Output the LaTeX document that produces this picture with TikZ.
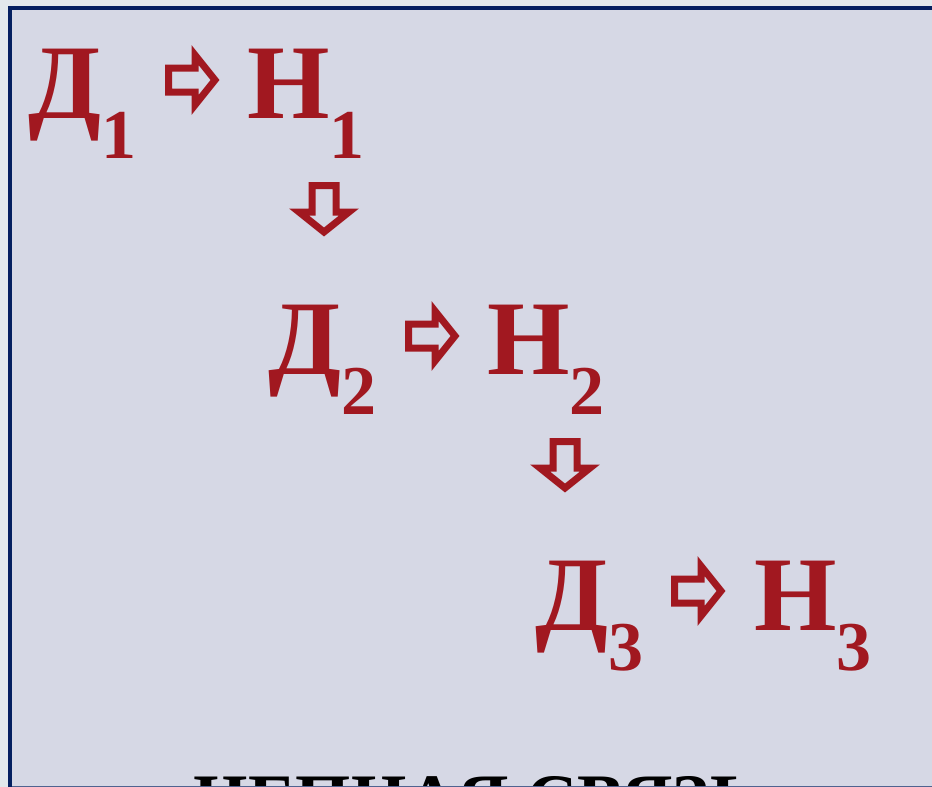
\documentclass[tikz,border=0pt]{standalone}
\usepackage{fontspec}
\setmainfont{Liberation Serif}
\usetikzlibrary{positioning}
\definecolor{chainred}{RGB}{161,24,32}
\definecolor{slidebg}{RGB}{214,216,229}
\definecolor{pagebg}{RGB}{226,233,236}
\definecolor{framenavy}{RGB}{4,32,96}
\newcommand{\lowidx}[1]{\raisebox{-40pt}{\fontsize{70}{70}\selectfont #1}}

\begin{document}
\begin{tikzpicture}[x=1pt, y=-1pt,
  letter/.style={text=chainred, font=\fontsize{106}{106}\selectfont\bfseries, inner sep=0pt, anchor=base west},
  blockarrow/.pic={\draw[chainred, fill=slidebg, line width=7pt, miter limit=10]
    (-50.5,-12) -- (-24,-12) -- (-24,-25) -- (-4,0) -- (-24,25) -- (-24,12) -- (-50.5,12) -- cycle;}]
  \useasboundingbox (0,0) rectangle (932,787);
  \clip (0,0) rectangle (932,787);
  \fill[pagebg] (0,0) rectangle (932,787);
  \draw[framenavy, line width=4pt, fill=slidebg] (10,8) rectangle (960,820);
  % chain rows
  \node[letter] (d1) at (28,118)  {Д\lowidx{1}};
  \node[letter] (n1) at (247,118) {Н\lowidx{1}};
  \node[letter] (d2) at (268,374) {Д\lowidx{2}};
  \node[letter] (n2) at (487,374) {Н\lowidx{2}};
  \node[letter] (d3) at (535,630) {Д\lowidx{3}};
  \node[letter] (n3) at (754,630) {Н\lowidx{3}};
  % block arrows (tip points)
  \pic (r1) at (219,80)  {blockarrow};
  \pic (r2) at (459,336) {blockarrow};
  \pic (r3) at (725,591) {blockarrow};
  \pic[rotate=-90] (s1) at (324,236) {blockarrow};
  \pic[rotate=-90] (s2) at (565,492) {blockarrow};
  % caption, cut off by the frame
  \node[anchor=base west, inner sep=0pt, font=\fontsize{71}{71}\selectfont\bfseries] (title) at (193,823) {ЦЕПНАЯ СВЯЗЬ};
  \draw[framenavy!70, line width=1pt] (12,786.5) -- (932,786.5);
\end{tikzpicture}
\end{document}
